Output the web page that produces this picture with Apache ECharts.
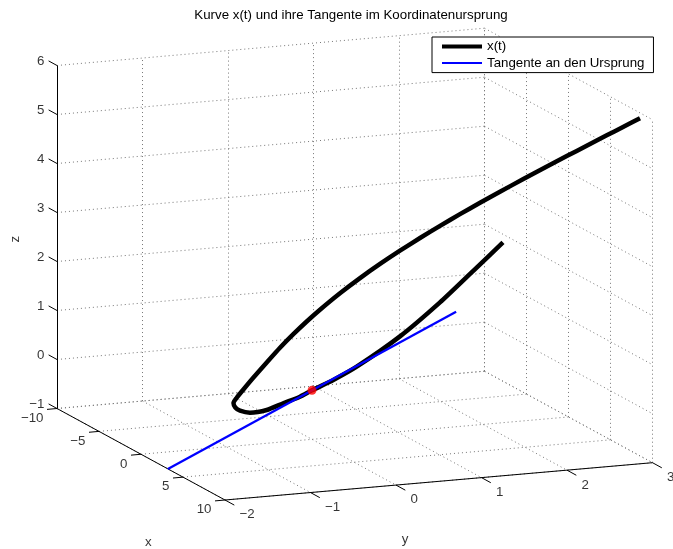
<!DOCTYPE html>
<html>
<head>
<meta charset="utf-8">
<script src="https://cdn.jsdelivr.net/npm/echarts/dist/echarts.min.js"></script>
<style>html,body{margin:0;padding:0;background:#fff}#c{width:673px;height:549px}</style>
</head>
<body>
<div id="c"></div>
<script>
// ---- data ----
const xTicks = [-10, -5, 0, 5, 10];
const yTicks = [-2, -1, 0, 1, 2, 3];
const zTicks = [-1, 0, 1, 2, 3, 4, 5, 6];
const xTickLabels = ['−10', '−5', '0', '5', '10'];
const yTickLabels = ['−2', '−1', '0', '1', '2', '3'];
const zTickLabels = ['−1', '0', '1', '2', '3', '4', '5', '6'];
const curveX = [8.98, 8.69, 8.42, 8.07, 7.73, 7.35, 6.97, 6.55, 6.19, 5.81, 5.43, 5.03, 4.61, 4.17, 3.70, 3.20, 2.66, 2.27, 1.85, 1.40, 0.92, 0.41, 0.01, -0.25, -0.42, -0.57, -0.67, -0.74, -0.65, -0.43, -0.21, 0, 0.34, 0.78, 1.78, 2.90, 3.94, 4.88];
const curveY = [2.954, 2.784, 2.620, 2.420, 2.220, 2.003, 1.787, 1.555, 1.357, 1.160, 0.964, 0.769, 0.576, 0.386, 0.198, 0.013, -0.168, -0.285, -0.400, -0.512, -0.620, -0.730, -0.808, -0.858, -0.877, -0.841, -0.776, -0.653, -0.466, -0.294, -0.120, 0, 0.216, 0.446, 0.854, 1.212, 1.499, 1.754];
const curveZ = [5.940, 5.762, 5.592, 5.378, 5.164, 4.929, 4.690, 4.428, 4.199, 3.961, 3.716, 3.461, 3.193, 2.910, 2.606, 2.278, 1.919, 1.660, 1.379, 1.077, 0.748, 0.401, 0.131, -0.049, -0.164, -0.276, -0.360, -0.426, -0.391, -0.260, -0.131, 0, 0.210, 0.487, 1.137, 1.881, 2.579, 3.206];
const tangentX = [3.2, -3.2];
const tangentY = [-2, 2];
const tangentZ = [-1, 1];
const originPt = [0, 0, 0];
const seriesNames = ['x(t)', 'Tangente an den Ursprung'];
const titleText = 'Kurve x(t) und ihre Tangente im Koordinatenursprung';

// ---- 3D box / orthographic view (layout) ----
const lim = { x: [xTicks[0], xTicks[xTicks.length - 1]], y: [yTicks[0], yTicks[yTicks.length - 1]], z: [zTicks[0], zTicks[zTicks.length - 1]] };
const corner = [57, 408.5];           // screen position of (xmin, ymin, zmin)
const vX = [168, 91.5], vY = [427.5, -37.3], vZ = [0, -343];  // screen span of each axis
function proj(x, y, z) {
  const u = (x - lim.x[0]) / (lim.x[1] - lim.x[0]);
  const v = (y - lim.y[0]) / (lim.y[1] - lim.y[0]);
  const w = (z - lim.z[0]) / (lim.z[1] - lim.z[0]);
  return [corner[0] + u * vX[0] + v * vY[0] + w * vZ[0],
          corner[1] + u * vX[1] + v * vY[1] + w * vZ[1]];
}
const seg = (a, b) => ({ coords: [proj(a[0], a[1], a[2]), proj(b[0], b[1], b[2])] });

// grid lines on back walls and floor
const gridSegs = [];
const [x0, x1] = lim.x, [y0, y1] = lim.y, [z0, z1] = lim.z;
yTicks.forEach(t => { gridSegs.push(seg([x0, t, z0], [x0, t, z1])); gridSegs.push(seg([x0, t, z0], [x1, t, z0])); });
xTicks.forEach(t => { gridSegs.push(seg([t, y1, z0], [t, y1, z1])); gridSegs.push(seg([t, y0, z0], [t, y1, z0])); });
zTicks.forEach(t => { gridSegs.push(seg([x0, y0, t], [x0, y1, t])); gridSegs.push(seg([x0, y1, t], [x1, y1, t])); });

// axis lines
const axisSegs = [seg([x0, y0, z0], [x1, y0, z0]), seg([x1, y0, z0], [x1, y1, z0]), seg([x0, y0, z0], [x0, y0, z1])];

// ticks (pixel direction vectors are styling)
const tickSegs = [];
const addTick = (p, d) => tickSegs.push({ coords: [p, [p[0] + d[0], p[1] + d[1]]] });
xTicks.forEach(t => addTick(proj(t, y0, z0), [-10, 0.9]));
yTicks.forEach(t => addTick(proj(x1, t, z0), [9.3, 5.1]));
zTicks.forEach(t => addTick(proj(x0, y0, t), [-8.4, -4.6]));

// labels
const labelData = [];
const addLabel = (p, txt, align, off, rot) => labelData.push({ value: p, txt: txt, label: { align: align, offset: off, rotate: rot || 0 } });
xTicks.forEach((t, i) => addLabel(proj(t, y0, z0), xTickLabels[i], 'right', [-13.5, 9.6]));
yTicks.forEach((t, i) => addLabel(proj(x1, t, z0), yTickLabels[i], 'left', [14.5, 14.7]));
zTicks.forEach((t, i) => addLabel(proj(x0, y0, t), zTickLabels[i], 'right', [-12.5, -4]));
addLabel(proj((x0 + x1) / 2, y0, z0), 'x', 'center', [7.3, 88]);
addLabel(proj(x1, (y0 + y1) / 2, z0), 'y', 'center', [-33.7, 58]);
addLabel(proj(x0, y0, (z0 + z1) / 2), 'z', 'center', [-2.3, -42], 90);

const curveData = curveX.map((x, i) => proj(x, curveY[i], curveZ[i]));
const tangentData = tangentX.map((x, i) => proj(x, tangentY[i], tangentZ[i]));

const FONT = 'Liberation Sans, Arial, Helvetica, sans-serif';
const chart = echarts.init(document.getElementById('c'), null, { renderer: 'canvas' });
chart.setOption({
  animation: false,
  backgroundColor: '#fff',
  textStyle: { fontFamily: FONT, fontSize: 13.3, color: '#000' },
  title: { text: titleText, left: 351, top: 9, padding: 0, textAlign: 'center',
           textStyle: { fontFamily: FONT, fontSize: 13.3, fontWeight: 'normal', color: '#000' } },
  legend: {
    data: [{ name: seriesNames[0], lineStyle: { width: 4 }, itemStyle: { opacity: 0 } },
           { name: seriesNames[1], lineStyle: { width: 2 }, itemStyle: { opacity: 0 } }],
    orient: 'vertical', left: 432, top: 37, padding: [3, 9, 3, 8],
    itemWidth: 40, itemHeight: 14, itemGap: 3.6,
    backgroundColor: '#fff', borderColor: '#000', borderWidth: 1, borderRadius: 0,
    textStyle: { fontFamily: FONT, fontSize: 13.3, color: '#000' }
  },
  grid: { left: 0, right: 0, top: 0, bottom: 0 },
  xAxis: { type: 'value', min: 0, max: 673, show: false },
  yAxis: { type: 'value', min: 0, max: 549, inverse: true, show: false },
  series: [
    { type: 'lines', coordinateSystem: 'cartesian2d', silent: true, z: 1, data: gridSegs,
      lineStyle: { color: '#777', width: 1, type: [1, 3], opacity: 1 } },
    { type: 'lines', coordinateSystem: 'cartesian2d', silent: true, z: 2, data: axisSegs,
      lineStyle: { color: '#000', width: 1, opacity: 1 } },
    { type: 'lines', coordinateSystem: 'cartesian2d', silent: true, z: 2, data: tickSegs,
      lineStyle: { color: '#000', width: 1, opacity: 1 } },
    { name: seriesNames[0], type: 'line', data: curveData, symbol: 'none', smooth: 0.2, z: 3, silent: true,
      lineStyle: { color: '#000', width: 4.5, join: 'round' }, itemStyle: { color: '#000' } },
    { name: seriesNames[1], type: 'line', data: tangentData, symbol: 'none', z: 4, silent: true,
      lineStyle: { color: '#0000ff', width: 2.3 }, itemStyle: { color: '#0000ff' } },
    { type: 'scatter', data: [proj(originPt[0], originPt[1], originPt[2])], symbolSize: 9, z: 5, silent: true,
      itemStyle: { color: '#ff0000' } },
    { type: 'scatter', data: labelData, symbolSize: 1, z: 6, silent: true,
      itemStyle: { color: 'rgba(0,0,0,0)' },
      label: { show: true, position: 'inside', verticalAlign: 'middle', color: '#000',
               fontFamily: FONT, fontSize: 13.3, formatter: p => p.data.txt } }
  ]
});
</script>
</body>
</html>
